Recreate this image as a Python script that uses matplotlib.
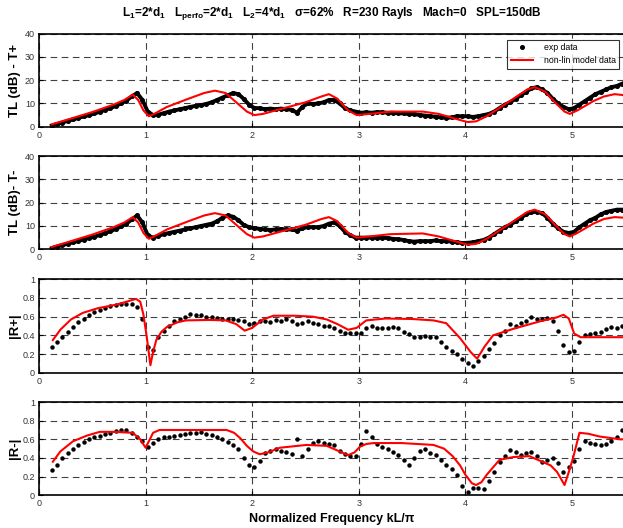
import numpy as np
import matplotlib
matplotlib.use("Agg")
import matplotlib.pyplot as plt

plt.rcParams['font.family'] = ['Liberation Sans', 'DejaVu Sans']
plt.rcParams['mathtext.fontset'] = 'custom'
plt.rcParams['mathtext.rm'] = 'Liberation Sans:bold'
plt.rcParams['mathtext.bf'] = 'Liberation Sans:bold'
plt.rcParams['mathtext.default'] = 'bf'

# ---------------- data ----------------
x_exp = np.round(np.arange(0.12, 5.48, 0.05), 2)  # measurement frequency grid (kL/pi)

tl_plus_exp = [
    0.5, 1.2, 1.8, 2.5, 3.1, 3.8, 4.4, 5.0, 5.7, 6.4,
    7.2, 8.0, 8.9, 10.0, 11.2, 13.0, 14.5, 11.5, 6.5, 5.0,
    5.2, 5.8, 6.5, 7.0, 7.5, 8.0, 8.5, 9.0, 9.3, 9.8,
    10.5, 11.5, 12.5, 13.5, 14.5, 14.0, 12.0, 9.5, 8.0, 8.0,
    7.5, 7.8, 7.5, 7.8, 7.5, 7.3, 6.0, 8.5, 10.0, 9.8,
    10.0, 10.5, 11.5, 11.5, 10.0, 8.0, 7.0, 6.5, 6.0, 6.2,
    6.0, 6.3, 6.2, 6.0, 6.0, 5.8, 5.7, 5.5, 5.5, 5.0,
    4.8, 4.5, 4.3, 4.0, 3.8, 4.0, 4.5, 4.5, 4.5, 4.2,
    4.5, 5.0, 5.5, 6.5, 8.0, 9.5, 10.5, 12.0, 13.5, 15.0,
    16.5, 17.0, 16.0, 14.5, 12.0, 10.0, 8.5, 7.5, 8.0, 9.5,
    11.0, 12.5, 14.0, 15.0, 16.0, 17.0, 17.5, 18.5]

tl_minus_exp = [
    0.5, 1.2, 1.8, 2.4, 3.0, 3.6, 4.2, 4.8, 5.4, 6.1,
    6.9, 7.8, 8.7, 9.8, 11.0, 12.8, 14.5, 11.5, 6.0, 5.0,
    5.8, 6.5, 7.0, 7.5, 8.0, 8.5, 9.0, 9.5, 10.0, 10.5,
    11.0, 12.0, 13.5, 14.5, 14.0, 12.5, 10.5, 9.5, 9.0, 8.8,
    8.5, 8.3, 8.5, 8.7, 8.5, 8.5, 8.0, 9.0, 9.5, 9.5,
    9.5, 10.0, 11.0, 11.5, 10.0, 7.5, 6.0, 5.0, 5.0, 5.0,
    5.0, 5.0, 5.0, 4.8, 4.5, 4.3, 4.0, 3.5, 3.3, 3.5,
    3.5, 3.5, 3.8, 3.5, 3.5, 3.3, 3.0, 2.7, 2.8, 3.0,
    3.5, 4.0, 5.0, 6.5, 8.0, 9.5, 10.5, 12.0, 13.5, 15.0,
    16.0, 16.0, 15.5, 13.5, 11.0, 9.0, 7.5, 7.0, 7.5, 9.5,
    11.0, 12.5, 13.5, 15.0, 16.0, 16.5, 17.0, 17.0]

r_plus_exp = [
    0.27, 0.33, 0.38, 0.44, 0.49, 0.54, 0.58, 0.62, 0.65, 0.67,
    0.69, 0.71, 0.72, 0.74, 0.74, 0.74, 0.70, 0.57, 0.28, 0.24,
    0.38, 0.45, 0.50, 0.55, 0.57, 0.60, 0.63, 0.62, 0.62, 0.60,
    0.60, 0.59, 0.58, 0.57, 0.58, 0.56, 0.55, 0.52, 0.53, 0.55,
    0.55, 0.54, 0.56, 0.55, 0.57, 0.55, 0.52, 0.53, 0.55, 0.53,
    0.52, 0.50, 0.50, 0.48, 0.45, 0.43, 0.42, 0.42, 0.43, 0.48,
    0.50, 0.48, 0.48, 0.48, 0.49, 0.48, 0.44, 0.41, 0.38, 0.38,
    0.39, 0.38, 0.38, 0.33, 0.27, 0.23, 0.20, 0.15, 0.10, 0.07,
    0.12, 0.18, 0.25, 0.32, 0.40, 0.45, 0.52, 0.50, 0.53, 0.55,
    0.60, 0.58, 0.57, 0.59, 0.55, 0.45, 0.30, 0.22, 0.23, 0.33,
    0.40, 0.41, 0.42, 0.44, 0.47, 0.49, 0.48, 0.50]

r_minus_exp = [
    0.27, 0.33, 0.40, 0.45, 0.50, 0.54, 0.57, 0.60, 0.62, 0.64,
    0.66, 0.67, 0.69, 0.70, 0.70, 0.67, 0.63, 0.58, 0.52, 0.56,
    0.60, 0.62, 0.63, 0.64, 0.65, 0.66, 0.67, 0.67, 0.68, 0.66,
    0.65, 0.63, 0.60, 0.57, 0.54, 0.50, 0.40, 0.32, 0.30, 0.37,
    0.45, 0.48, 0.50, 0.47, 0.46, 0.44, 0.60, 0.42, 0.50, 0.56,
    0.58, 0.56, 0.55, 0.54, 0.48, 0.44, 0.42, 0.42, 0.55, 0.69,
    0.62, 0.55, 0.52, 0.50, 0.46, 0.43, 0.38, 0.32, 0.40, 0.48,
    0.50, 0.45, 0.43, 0.38, 0.33, 0.28, 0.22, 0.10, 0.04, 0.08,
    0.08, 0.07, 0.15, 0.25, 0.36, 0.42, 0.49, 0.46, 0.43, 0.45,
    0.46, 0.42, 0.36, 0.38, 0.40, 0.35, 0.25, 0.30, 0.37, 0.50,
    0.58, 0.56, 0.55, 0.54, 0.55, 0.58, 0.62, 0.70]

x_mod_tl = [0.12, 0.3, 0.5, 0.7, 0.8, 0.88, 0.93, 0.98, 1.03, 1.08, 1.2, 1.4, 1.55,
            1.65, 1.75, 1.85, 1.95, 2.02, 2.1, 2.3, 2.5, 2.65, 2.72, 2.8, 2.9, 2.98,
            3.1, 3.3, 3.6, 3.75, 3.9, 4.02, 4.1, 4.2, 4.3, 4.45, 4.58, 4.65, 4.75,
            4.85, 4.93, 4.98, 5.05, 5.2, 5.3, 5.4, 5.5]
tl_plus_mod = [1.0, 3.5, 6.3, 9.5, 11.5, 13.8, 11.5, 7.0, 4.5, 5.5, 8.5, 12.0, 14.5,
               15.5, 14.5, 10.5, 6.5, 5.0, 5.5, 8.0, 10.5, 13.0, 14.0, 12.0, 7.0, 5.0,
               5.5, 6.5, 6.5, 5.5, 3.5, 2.0, 2.3, 4.5, 7.5, 12.0, 16.0, 17.0, 15.0,
               10.0, 6.5, 5.5, 7.0, 11.0, 13.0, 14.0, 13.5]
tl_minus_mod = [1.0, 3.5, 6.3, 9.5, 11.5, 13.8, 11.5, 7.0, 4.5, 5.5, 8.5, 12.0, 14.5,
                15.5, 14.5, 10.5, 6.5, 5.0, 5.5, 8.0, 10.5, 13.0, 13.8, 12.0, 7.0, 5.0,
                5.5, 6.5, 6.8, 5.5, 3.5, 2.0, 2.3, 4.5, 7.5, 12.0, 16.0, 17.0, 15.0,
                10.0, 6.5, 5.5, 7.0, 11.0, 13.0, 13.8, 13.5]

x_mod_rp = [0.13, 0.2, 0.3, 0.41, 0.55, 0.73, 0.85, 0.91, 0.95, 0.98, 1.01, 1.045,
            1.07, 1.1, 1.15, 1.2, 1.3, 1.38, 1.6, 1.75, 1.85, 1.93, 2.0, 2.1, 2.2,
            2.4, 2.57, 2.7, 2.8, 2.9, 2.98, 3.07, 3.25, 3.5, 3.7, 3.82, 3.95, 4.05,
            4.11, 4.18, 4.26, 4.45, 4.7, 4.85, 4.92, 4.97, 5.02, 5.08, 5.2, 5.5]
r_plus_mod = [0.35, 0.46, 0.57, 0.64, 0.69, 0.73, 0.77, 0.79, 0.76, 0.62, 0.39, 0.08,
              0.22, 0.35, 0.44, 0.49, 0.54, 0.56, 0.565, 0.56, 0.52, 0.45, 0.48, 0.57,
              0.61, 0.61, 0.60, 0.57, 0.52, 0.46, 0.48, 0.56, 0.58, 0.575, 0.56, 0.53,
              0.37, 0.22, 0.15, 0.28, 0.40, 0.47, 0.55, 0.59, 0.62, 0.58, 0.42, 0.38,
              0.38, 0.38]

x_mod_rm = [0.13, 0.2, 0.32, 0.45, 0.57, 0.7, 0.88, 0.95, 1.0, 1.04, 1.07, 1.13, 1.3,
            1.6, 1.76, 1.83, 1.89, 1.95, 2.01, 2.07, 2.15, 2.26, 2.51, 2.7, 2.82, 2.9,
            2.96, 3.01, 3.07, 3.14, 3.4, 3.7, 3.8, 3.88, 3.95, 4.0, 4.06, 4.1, 4.15,
            4.2, 4.32, 4.45, 4.6, 4.7, 4.8, 4.86, 4.93, 4.97, 5.01, 5.07, 5.15, 5.26,
            5.45, 5.5]
r_minus_mod = [0.36, 0.47, 0.58, 0.64, 0.68, 0.68, 0.67, 0.60, 0.51, 0.60, 0.67, 0.70,
               0.70, 0.70, 0.70, 0.67, 0.61, 0.53, 0.47, 0.44, 0.46, 0.51, 0.54, 0.53,
               0.47, 0.43, 0.46, 0.52, 0.55, 0.56, 0.56, 0.54, 0.50, 0.42, 0.32, 0.22,
               0.13, 0.11, 0.14, 0.22, 0.38, 0.41, 0.42, 0.37, 0.32, 0.25, 0.11, 0.25,
               0.40, 0.67, 0.66, 0.63, 0.60, 0.60]

x_ticks = [0, 1, 2, 3, 4, 5]
tl_yticks = [0, 10, 20, 30, 40]
r_yticks = [0, 0.2, 0.4, 0.6, 0.8, 1]
r_yticklabels = ['0', '0.2', '0.4', '0.6', '0.8', '1']
ylabels = ['TL (dB) - T+', 'TL (dB)- T-', '|R+|', '|R-|']
title = (r'L$_\mathbf{1}$=2*d$_\mathbf{1}$   L$_\mathbf{perfo}$=2*d$_\mathbf{1}$   '
         r'L$_\mathbf{2}$=4*d$_\mathbf{1}$   σ=62%   R=230 Rayls   Mach=0   SPL=150dB')

# ---------------- figure ----------------
W, H = 623, 528
fig = plt.figure(figsize=(W / 100, H / 100), dpi=100)

left = 39 / W
width = 5.5 * 106.6 / W
tops = [33.7, 156.0, 279.3, 402.0]
heights = [93.0, 93.3, 93.4, 93.3]

panels = [
    (tl_plus_exp, x_mod_tl, tl_plus_mod, True),
    (tl_minus_exp, x_mod_tl, tl_minus_mod, True),
    (r_plus_exp, x_mod_rp, r_plus_mod, False),
    (r_minus_exp, x_mod_rm, r_minus_mod, False),
]

axes = []
for i, (yexp, xm, ym, is_tl) in enumerate(panels):
    bottom = 1 - (tops[i] + heights[i]) / H
    ax = fig.add_axes([left, bottom, width, heights[i] / H])
    axes.append(ax)
    if is_tl:
        ax.plot(x_exp, yexp, color='black', lw=2.8, zorder=3)
        ax.plot(x_exp, yexp, 'o', color='black', ms=2.6, zorder=3, label='exp data')
    else:
        ax.plot(x_exp, yexp, 'o', color='black', ms=3.2, mew=0, zorder=3, label='exp data')
    ax.plot(xm, ym, color='red', lw=1.5, zorder=4, label='non-lin model data')
    ax.set_xlim(0, 5.5)
    ax.set_xticks(x_ticks)
    ax.set_xticklabels([str(t) for t in x_ticks])
    if is_tl:
        ax.set_ylim(0, 40)
        ax.set_yticks(tl_yticks)
        ax.set_yticklabels([str(t) for t in tl_yticks])
    else:
        ax.set_ylim(0, 1)
        ax.set_yticks(r_yticks)
        ax.set_yticklabels(r_yticklabels)
    ax.grid(True, color='black', linestyle=(0, (6, 4)), linewidth=0.8, alpha=0.75)
    ax.set_axisbelow(True)
    ax.tick_params(direction='in', length=3, width=0.8, labelsize=6.5,
                   labelcolor='#333333', pad=3)
    for s in ax.spines.values():
        s.set_linewidth(1.2)
    ax.set_ylabel(ylabels[i], fontsize=9.5, fontweight='bold')
    ax.yaxis.set_label_coords(-0.031, 0.5)

fig.text(332 / W, 1 - 14 / H, title, ha='center', va='center',
         fontsize=8.5, fontweight='bold')

axes[-1].set_xlabel('Normalized Frequency kL/π', fontsize=9, fontweight='bold', labelpad=3)

h, l = axes[0].get_legend_handles_labels()
leg = fig.legend([h[0], h[-1]], ['exp data', 'non-lin model data'],
                 loc='upper left', bbox_to_anchor=(507 / W, 1 - 40 / H),
                 fontsize=6.3, frameon=True, fancybox=False, edgecolor='black',
                 borderpad=0.4, handlelength=2.6, labelspacing=0.4, handletextpad=1.2,
                 borderaxespad=0)
leg.get_frame().set_linewidth(0.8)

fig.savefig('out.png', dpi=100)
